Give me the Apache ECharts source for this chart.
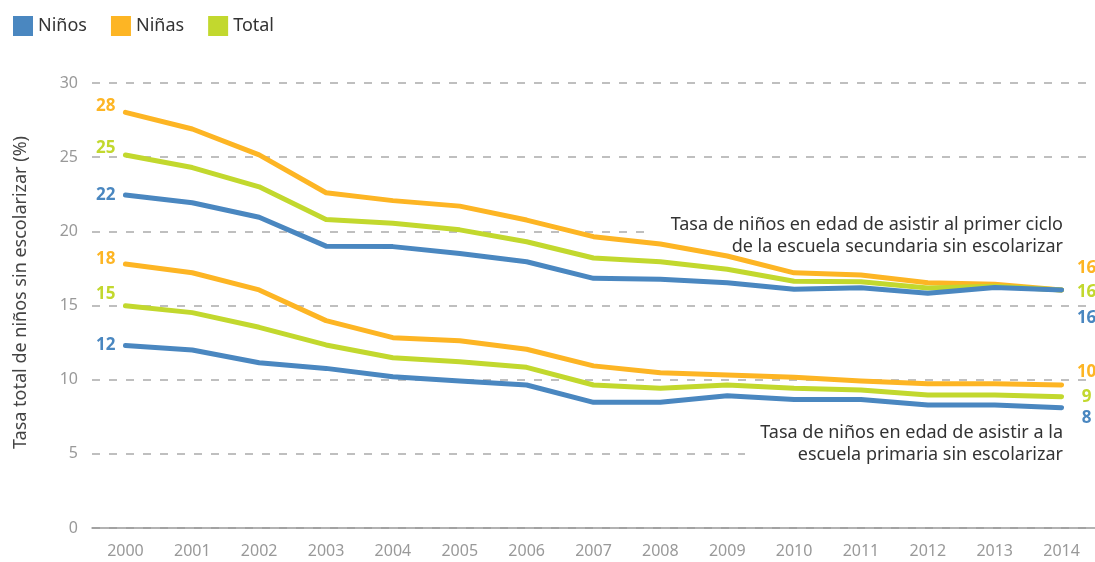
<!DOCTYPE html>
<html>
<head>
    <meta charset="utf-8" />
    <title>ECharts</title>
    <script src="https://cdn.jsdelivr.net/npm/echarts@6/dist/echarts.min.js"></script>
</head>
<body style="margin:0">
<div id="main" style="width: 1095px;height:562px;"></div>

<script type="text/javascript">
    // años (eje x)
    var years = ['2000', '2001', '2002', '2003', '2004', '2005', '2006', '2007',
                 '2008', '2009', '2010', '2011', '2012', '2013', '2014'];

    // primer ciclo de secundaria
    var secNinas = [28.02, 26.9, 25.15, 22.6, 22.07, 21.7, 20.76, 19.64, 19.15, 18.34, 17.2, 17.06, 16.54, 16.43, 16.05];
    var secTotal = [25.15, 24.3, 23.0, 20.8, 20.54, 20.1, 19.3, 18.2, 17.95, 17.44, 16.63, 16.6, 16.18, 16.3, 16.05];
    var secNinos = [22.45, 21.93, 20.95, 19.0, 18.97, 18.5, 17.95, 16.83, 16.77, 16.54, 16.09, 16.2, 15.82, 16.22, 16.05];

    // primaria
    var priNinas = [17.8, 17.21, 16.05, 13.98, 12.83, 12.63, 12.05, 10.93, 10.47, 10.31, 10.16, 9.91, 9.73, 9.73, 9.64];
    var priTotal = [14.99, 14.52, 13.53, 12.34, 11.48, 11.21, 10.83, 9.64, 9.42, 9.64, 9.42, 9.3, 8.97, 8.97, 8.85];
    var priNinos = [12.31, 12.0, 11.14, 10.76, 10.2, 9.91, 9.64, 8.47, 8.47, 8.92, 8.67, 8.67, 8.29, 8.29, 8.11];

    var yTicks = [0, 5, 10, 15, 20, 25, 30];

    var azul = '#4a87c0', naranja = '#fdb524', verde = '#c2d82e';
    var fuente = '"Noto Sans", sans-serif';

    // etiqueta al inicio y al final de cada linea
    function conEtiquetas(values, dyIni, dyFin) {
        var last = values.length - 1;
        return values.map(function (v, i) {
            if (i === 0) {
                return { value: v, label: { show: true, position: 'left', distance: 10, offset: [0, dyIni] } };
            }
            if (i === last) {
                return { value: v, label: { show: true, position: 'right', distance: 25, align: 'center', offset: [0, dyFin] } };
            }
            return v;
        });
    }

    function serie(name, values, color, dyIni, dyFin) {
        return {
            name: name,
            type: 'line',
            data: conEtiquetas(values, dyIni, dyFin),
            symbol: 'circle',
            symbolSize: 0.1,
            showSymbol: true,
            color: color,
            lineStyle: { width: 5, color: color, cap: 'round', join: 'round' },
            label: {
                show: false,
                color: color,
                fontWeight: 'bold',
                fontSize: 17,
                fontFamily: fuente,
                formatter: function (p) { return Math.round(p.value); }
            },
            z: 3
        };
    }

    var myChart = echarts.init(document.getElementById('main'));

    var option = {
        animation: false,
        textStyle: { fontFamily: fuente },
        legend: {
            data: ['Niños', 'Niñas', 'Total'],
            left: 13,
            top: 16,
            padding: 0,
            icon: 'rect',
            itemWidth: 20,
            itemHeight: 20,
            itemGap: 24,
            textStyle: { fontSize: 18, color: '#333', fontFamily: fuente }
        },
        grid: { left: 92, top: 83, width: 1005, bottom: 34 },
        xAxis: {
            type: 'category',
            data: years,
            axisLine: { lineStyle: { color: '#999', width: 1.5 } },
            axisTick: { alignWithLabel: true, length: 8, lineStyle: { color: '#999', width: 1.5 } },
            axisLabel: { color: '#999', fontSize: 16, margin: 15, fontFamily: fuente }
        },
        yAxis: {
            type: 'value',
            min: yTicks[0],
            max: yTicks[yTicks.length - 1],
            interval: 5,
            name: 'Tasa total de niños sin escolarizar (%)',
            nameLocation: 'middle',
            nameGap: 62,
            nameTextStyle: { color: '#444', fontSize: 18, fontFamily: fuente, padding: [0, 0, 0, 26] },
            axisLine: { show: false },
            axisTick: { show: false },
            axisLabel: { color: '#999', fontSize: 16, margin: 14, fontFamily: fuente },
            splitLine: { lineStyle: { color: '#aaa', width: 1.5, type: [8, 9] } }
        },
        graphic: [
            { type: 'rect', x: 645, y: 213, shape: { width: 450, height: 47 }, style: { fill: '#fff' }, z: 1 },
            { type: 'rect', x: 745, y: 421, shape: { width: 350, height: 47 }, style: { fill: '#fff' }, z: 1 },
            {
                type: 'text', x: 1063, y: 214, z: 2,
                style: {
                    text: 'Tasa de niños en edad de asistir al primer ciclo\nde la escuela secundaria sin escolarizar',
                    align: 'right', verticalAlign: 'top', fill: '#333', fontSize: 18, lineHeight: 22, fontFamily: fuente
                }
            },
            {
                type: 'text', x: 1063, y: 422, z: 2,
                style: {
                    text: 'Tasa de niños en edad de asistir a la\nescuela primaria sin escolarizar',
                    align: 'right', verticalAlign: 'top', fill: '#333', fontSize: 18, lineHeight: 22, fontFamily: fuente
                }
            }
        ],
        series: [
            serie('Niñas', secNinas, naranja, -6, -22),
            serie('Total', secTotal, verde, -7, 2),
            serie('Niños', secNinos, azul, 0, 28),
            serie('Niñas', priNinas, naranja, -5, -13),
            serie('Total', priTotal, verde, -11, 0),
            serie('Niños', priNinos, azul, 0, 10)
        ]
    };

    myChart.setOption(option);
</script>
</body>
</html>
